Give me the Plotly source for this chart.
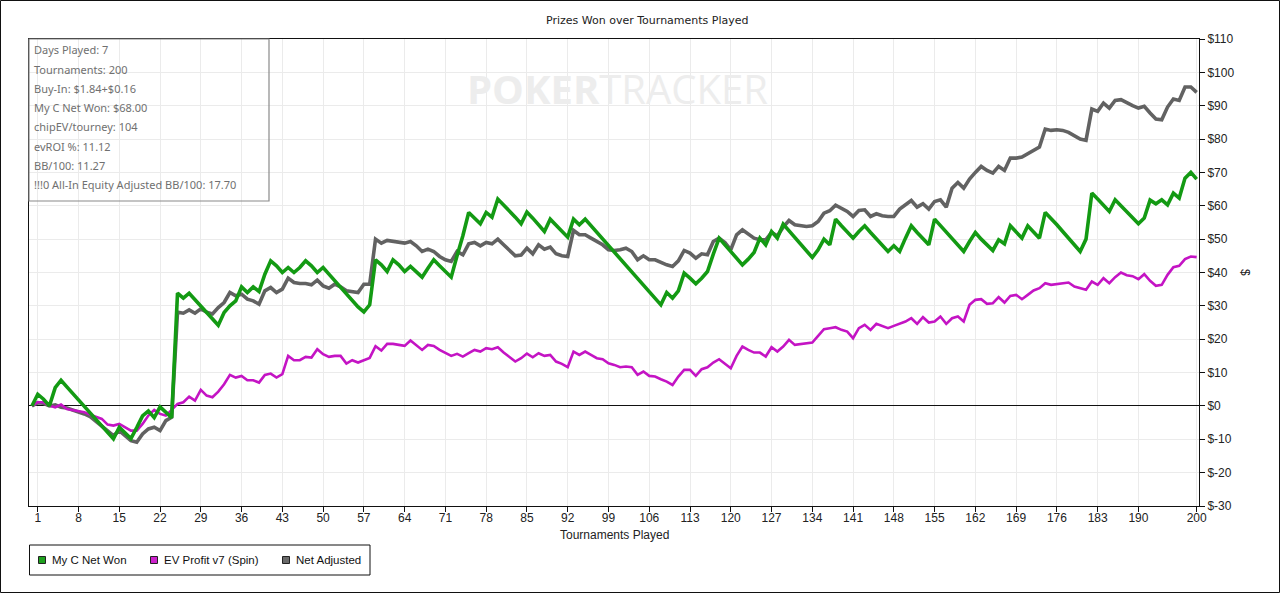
import plotly.graph_objects as go

# ---------------- data ----------------
net_won = [
    0, 3.5, 2.0, 0, 5.5, 7.7, 5.7, 3.7, 1.7, -0.3,
    -2.3, -4.3, -6.3, -8.3, -9.9, -6.4, -8.2, -9.8, -6.5, -3.0,
    -1.5, -3.5, -0.3, -1.8, -3.5, 33.8, 32.3, 33.8, 31.8, 29.8,
    27.8, 26.0, 24.2, 28.0, 30.0, 31.5, 35.7, 34.0, 35.7, 34.3,
    39.5, 43.5, 42.0, 40.0, 41.5, 40.0, 41.5, 43.5, 42.0, 40.0,
    41.5, 39.5, 37.5, 35.5, 33.5, 31.5, 29.7, 28.2, 30.3, 43.8,
    42.3, 40.3, 43.8, 42.3, 40.3, 41.8, 40.3, 38.6, 41.3, 43.8,
    42.0, 40.3, 38.6, 45.0, 51.0, 58.0, 56.3, 54.6, 58.0, 56.6,
    62.0, 60.3, 58.3, 56.6, 54.6, 58.1, 56.3, 54.3, 52.3, 56.0,
    54.3, 52.3, 50.6, 56.0, 54.3, 56.0, 54.0, 52.0, 50.0, 48.0,
    46.0, 44.0, 42.0, 40.0, 38.0, 36.0, 34.0, 32.0, 30.3, 34.0,
    32.3, 34.5, 39.8, 38.3, 36.6, 38.3, 40.3, 45.5, 50.3, 48.3,
    46.3, 44.3, 42.3, 44.0, 46.0, 50.3, 48.3, 52.3, 50.3, 54.5,
    52.5, 50.5, 48.5, 46.5, 44.5, 46.8, 50.0, 48.3, 56.0, 54.0,
    52.0, 50.3, 52.3, 54.0, 52.0, 50.0, 48.0, 46.3, 48.0, 46.3,
    50.3, 54.0, 52.0, 50.0, 48.3, 56.0, 54.0, 52.0, 50.0, 48.0,
    46.3, 49.3, 52.0, 50.0, 48.3, 46.6, 49.8, 48.6, 54.0, 52.3,
    50.3, 54.0, 52.3, 50.3, 58.0, 56.3, 54.3, 52.3, 50.3, 48.3,
    46.3, 50.0, 63.8, 62.0, 60.3, 58.3, 61.8, 60.0, 58.5, 56.5,
    54.6, 56.3, 61.7, 60.6, 61.8, 60.3, 63.8, 62.3, 68.3, 70.0,
    68.0,
]

ev_profit = [
    0, 1.1, 1.1, 0.1, -0.4, 0.4, -0.9, -1.2, -1.4, -1.9,
    -2.6, -3.3, -3.9, -5.6, -5.9, -5.4, -6.4, -7.4, -7.4, -5.4,
    -2.9, -1.2, -2.4, -2.9, -1.2, 0.6, 1.1, 2.8, 1.6, 4.8,
    3.1, 2.6, 4.3, 6.5, 9.3, 8.5, 9.0, 7.7, 7.7, 7.0,
    9.3, 9.7, 8.5, 9.5, 15.0, 13.7, 13.7, 14.7, 14.5, 17.0,
    15.5, 14.7, 15.0, 15.0, 12.7, 13.7, 13.0, 13.7, 14.4, 17.9,
    16.6, 18.6, 18.6, 18.3, 18.0, 19.6, 18.3, 16.8, 18.3, 18.0,
    16.8, 15.8, 15.0, 15.6, 14.8, 15.8, 16.8, 16.3, 17.3, 17.0,
    17.6, 16.0, 14.6, 13.3, 14.3, 15.7, 14.6, 15.8, 15.0, 15.3,
    13.3, 12.6, 11.6, 16.3, 15.3, 16.3, 15.3, 14.3, 14.0, 12.8,
    12.3, 11.6, 11.8, 11.6, 9.3, 10.3, 9.0, 8.8, 8.0, 7.3,
    6.3, 8.8, 10.8, 10.8, 9.0, 11.0, 11.6, 13.0, 14.0, 12.6,
    11.3, 15.0, 17.8, 16.8, 16.0, 16.0, 14.8, 17.6, 16.3, 17.8,
    19.8, 18.3, 18.6, 18.8, 19.0, 21.0, 23.0, 23.3, 23.6, 22.8,
    22.3, 20.3, 23.3, 24.3, 22.8, 24.6, 24.0, 23.3, 24.0, 24.6,
    25.3, 26.3, 24.6, 26.6, 25.0, 25.3, 26.8, 24.6, 26.3, 26.8,
    25.3, 30.3, 31.8, 32.0, 30.6, 30.8, 32.6, 31.0, 33.0, 33.3,
    32.0, 33.3, 34.6, 35.3, 36.8, 36.3, 36.6, 36.8, 37.0, 35.8,
    35.3, 34.8, 37.3, 36.3, 38.3, 36.8, 38.6, 40.0, 39.2, 38.9,
    38.0, 39.5, 37.5, 36.0, 36.3, 39.3, 41.6, 42.0, 44.0, 44.8,
    44.6,
]

net_adjusted = [
    0, 1.0, 0.8, 0, 0.3, -0.4, -0.6, -1.2, -1.6, -2.4,
    -3.2, -4.6, -6.0, -7.5, -8.9, -7.4, -9.0, -10.4, -10.9, -8.4,
    -6.9, -6.4, -7.4, -4.4, -3.4, 28.1, 27.8, 28.8, 27.8, 29.1,
    28.1, 27.6, 29.5, 31.0, 34.0, 33.0, 33.5, 32.0, 31.5, 30.5,
    34.5, 35.5, 34.0, 35.0, 38.3, 37.0, 36.7, 36.7, 36.3, 37.7,
    36.0, 35.3, 36.5, 35.7, 34.5, 34.3, 34.0, 36.5, 36.5, 50.0,
    48.8, 49.6, 49.3, 49.0, 48.8, 49.3, 48.0, 46.3, 47.0, 46.3,
    44.8, 43.8, 43.3, 46.3, 45.3, 48.6, 49.0, 48.0, 49.0, 48.6,
    50.0, 48.3, 46.8, 45.0, 45.2, 47.3, 45.6, 48.3, 47.0, 47.6,
    45.6, 45.0, 44.8, 52.6, 51.3, 51.3, 50.3, 49.3, 48.3, 46.8,
    46.6, 46.8, 47.3, 46.3, 43.8, 45.0, 43.8, 43.8, 43.0, 42.3,
    41.8, 43.5, 46.6, 45.8, 44.3, 45.6, 45.3, 49.3, 50.3, 49.0,
    46.8, 51.3, 52.8, 51.6, 50.3, 49.8, 49.8, 52.0, 51.0, 53.6,
    55.6, 54.3, 54.0, 53.8, 54.0, 55.3, 57.8, 58.5, 60.2, 59.2,
    58.3, 56.8, 58.6, 58.8, 56.8, 57.6, 57.0, 56.8, 56.8, 59.0,
    60.3, 61.6, 59.6, 60.6, 59.0, 61.3, 61.8, 59.6, 65.3, 67.0,
    65.3, 68.0, 70.0, 71.8, 70.6, 69.8, 71.8, 70.6, 74.3, 74.3,
    74.6, 75.6, 76.3, 77.6, 83.0, 82.6, 82.8, 82.6, 82.0, 81.0,
    80.0, 79.6, 89.0, 88.3, 90.8, 89.3, 91.6, 91.8, 90.8, 90.0,
    89.3, 89.8, 87.8, 86.0, 85.8, 89.6, 92.0, 91.6, 95.6, 95.6,
    94.0,
]

series_names = ["My C Net Won", "EV Profit v7 (Spin)", "Net Adjusted"]
x_tick_vals = [1, 8, 15, 22, 29, 36, 43, 50, 57, 64, 71, 78, 85, 92, 99, 106,
               113, 120, 127, 134, 141, 148, 155, 162, 169, 176, 183, 190, 200]
y_tick_vals = [110, 100, 90, 80, 70, 60, 50, 40, 30, 20, 10, 0, -10, -20, -30]
y_tick_text = ["$110", "$100", "$90", "$80", "$70", "$60", "$50", "$40", "$30",
               "$20", "$10", "$0", "$-10", "$-20", "$-30"]
stats_lines = [
    "Days Played: 7",
    "Tournaments: 200",
    "Buy-In: $1.84+$0.16",
    "My C Net Won: $68.00",
    "chipEV/tourney: 104",
    "evROI %: 11.12",
    "BB/100: 11.27",
    "!!!0 All-In Equity Adjusted BB/100: 17.70",
]

# ---------------- geometry helpers (pixels -> paper) ----------------
W, H = 1280, 593
ML, MR, MT, MB = 29, 81, 39, 87
PW, PH = W - ML - MR, H - MT - MB


def px(xp):
    return (xp - ML) / PW


def py(yp):
    return (H - MB - yp) / PH


GREEN = "#139a13"
MAGENTA = "#c414c4"
GRAY = "#626262"
LEG_COLORS = ["#1ea01e", "#cc22cc", "#6a6a6a"]

fig = go.Figure()

fig.add_trace(go.Scatter(x=list(range(len(net_adjusted))), y=net_adjusted, mode="lines",
                         line=dict(color=GRAY, width=3.6), name=series_names[2],
                         hoverinfo="skip"))
fig.add_trace(go.Scatter(x=list(range(len(ev_profit))), y=ev_profit, mode="lines",
                         line=dict(color=MAGENTA, width=2.6), name=series_names[1],
                         hoverinfo="skip"))
fig.add_trace(go.Scatter(x=list(range(len(net_won))), y=net_won, mode="lines",
                         line=dict(color=GREEN, width=3.6), name=series_names[0],
                         hoverinfo="skip"))

annotations = []
annotations.append(dict(text="Prizes Won over Tournaments Played", xref="paper", yref="paper",
                        x=px(647), y=py(21), xanchor="center", yanchor="middle",
                        showarrow=False,
                        font=dict(family="DejaVu Sans", size=11, color="#222")))
annotations.append(dict(text="Tournaments Played", xref="paper", yref="paper",
                        x=px(614), y=py(535), xanchor="center", yanchor="middle",
                        showarrow=False,
                        font=dict(family="Liberation Sans", size=12, color="#222")))
annotations.append(dict(text="$", xref="paper", yref="paper", x=px(1245), y=py(272),
                        xanchor="center", yanchor="middle", showarrow=False, textangle=90,
                        font=dict(family="Liberation Sans", size=12, color="#222")))
annotations.append(dict(text="<b>POKER</b>TRACKER", xref="paper", yref="paper",
                        x=px(617), y=py(88), xanchor="center", yanchor="middle",
                        showarrow=False,
                        font=dict(family="Open Sans", size=40, color="#ededed")))
stat_y = [50, 69, 88.5, 107.5, 127, 146.5, 165.5, 184.5]
for line, yy in zip(stats_lines, stat_y):
    annotations.append(dict(text=line, xref="paper", yref="paper", x=px(32), y=py(yy),
                            xanchor="left", yanchor="middle", showarrow=False,
                            font=dict(family="Noto Sans", size=11, color="#707070")))

shapes = [
    dict(type="rect", xref="paper", yref="paper", x0=px(29), x1=px(269),
         y0=py(201), y1=py(39), line=dict(color="#8a8a8a", width=1.2),
         fillcolor="rgba(0,0,0,0)"),
    dict(type="rect", xref="paper", yref="paper", x0=px(0.5), x1=px(1279.5),
         y0=py(592.5), y1=py(0.5), line=dict(color="#111", width=1)),
    dict(type="rect", xref="paper", yref="paper", x0=px(29.5), x1=px(370),
         y0=py(575), y1=py(545), line=dict(color="#111", width=1),
         fillcolor="white"),
]

leg_sq_x = [42, 154, 286]
leg_txt_x = [50, 162, 294]
for name, col, sx, tx in zip(series_names, LEG_COLORS, leg_sq_x, leg_txt_x):
    shapes.append(dict(type="rect", xref="paper", yref="paper",
                       x0=px(sx - 3.5), x1=px(sx + 3.5), y0=py(563.5), y1=py(556.5),
                       line=dict(color="#222", width=1), fillcolor=col))
    annotations.append(dict(text=name, xref="paper", yref="paper", x=px(tx), y=py(560),
                            xanchor="left", yanchor="middle", showarrow=False,
                            font=dict(family="Liberation Sans", size=11.5, color="#111")))

fig.update_layout(
    width=W, height=H,
    margin=dict(l=ML, r=MR, t=MT, b=MB),
    paper_bgcolor="white", plot_bgcolor="white",
    annotations=annotations, shapes=shapes,
    showlegend=False,
    xaxis=dict(range=[-0.5, 200.4], tickvals=x_tick_vals, showgrid=True,
               gridcolor="#ebebeb", gridwidth=1, showline=True, linecolor="#111",
               linewidth=1, mirror=True, ticks="outside", ticklen=5, tickcolor="#111",
               zeroline=False, ticklabelstandoff=-4,
               tickfont=dict(family="Liberation Sans", size=12, color="#222")),
    yaxis=dict(range=[-30, 110], side="right", tickvals=y_tick_vals, ticktext=y_tick_text,
               showgrid=True, gridcolor="#ebebeb", gridwidth=1, showline=True,
               linecolor="#111", linewidth=1, mirror=True, ticks="outside", ticklen=5,
               tickcolor="#111", zeroline=True, zerolinecolor="#111", zerolinewidth=1,
               tickfont=dict(family="Liberation Sans", size=12, color="#222")),
)

fig.write_html("out.html", config={"displayModeBar": False},
               post_script="document.body.style.margin='0';"
               "document.body.style.overflow='hidden';")
